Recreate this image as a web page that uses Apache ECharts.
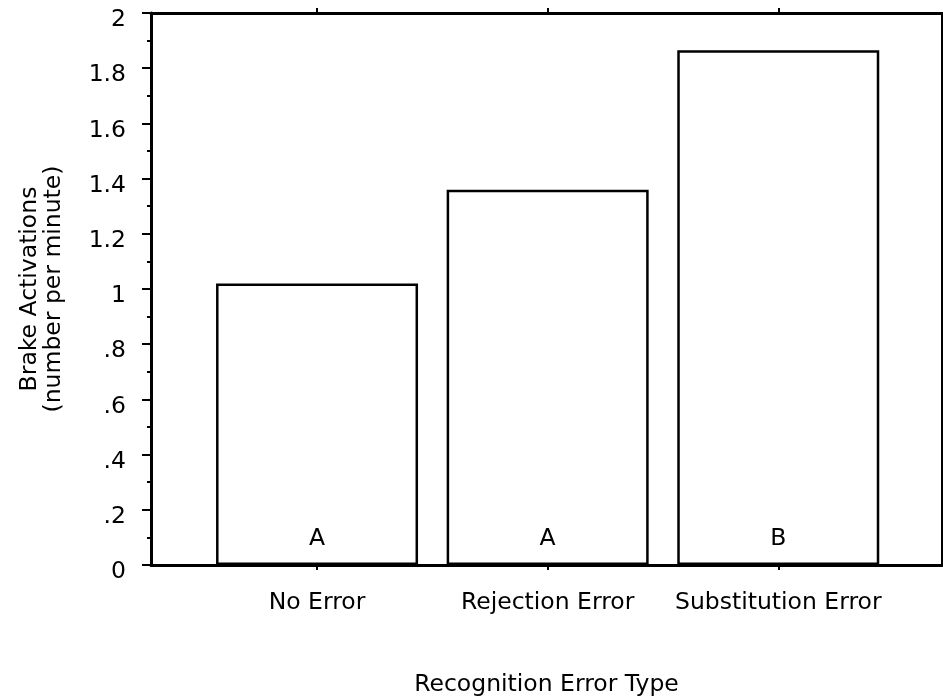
<!DOCTYPE html>
<html><head><meta charset="utf-8">
<script src="https://cdn.jsdelivr.net/npm/echarts@6/dist/echarts.min.js"></script>
<style>html,body{margin:0;padding:0;background:#fff}#c{width:943px;height:698px}</style>
</head><body><div id="c"></div>
<script>
const categories = ["No Error", "Rejection Error", "Substitution Error"];
const values = [1.02, 1.36, 1.865];
const groupLetters = ["A", "A", "B"];
const yTicks = [0, 0.2, 0.4, 0.6, 0.8, 1, 1.2, 1.4, 1.6, 1.8, 2];
const positions = [1, 2, 3];

const font = "DejaVu Sans";
const fs = 23.5;
const chart = echarts.init(document.getElementById('c'));
function yFmt(v){
  const r = Math.round(v*10)/10;
  if (r === 0) return "0";
  let s = String(r);
  if (s.startsWith("0.")) s = s.slice(1);
  return s;
}
chart.setOption({
  animation: false,
  backgroundColor: '#fff',
  grid: {left: 151, right: 1, top: 13, bottom: 133, containLabel: false, outerBoundsMode: 'none'},
  xAxis: [{
    type: 'value', min: 0.28, max: 3.71, position: 'bottom',
    name: 'Recognition Error Type', nameLocation: 'middle', nameGap: 108,
    nameTextStyle: {fontFamily: font, fontSize: fs, color: '#000'},
    axisLine: {show: true, onZero: false, lineStyle: {color: '#000', width: 3}},
    axisTick: {show: true, customValues: positions, length: 5, lineStyle: {color: '#000', width: 2}},
    axisLabel: {customValues: positions, formatter: v => categories[Math.round(v)-1] || '', margin: 26,
      fontFamily: font, fontSize: fs, color: '#000'},
    splitLine: {show: false}
  }, {
    type: 'value', min: 0.28, max: 3.71, position: 'top',
    axisLine: {show: true, onZero: false, lineStyle: {color: '#000', width: 3}},
    axisTick: {show: true, customValues: positions, length: 5, lineStyle: {color: '#000', width: 2}},
    axisLabel: {show: false},
    splitLine: {show: false}
  }],
  yAxis: [{
    type: 'value', min: 0, max: 2, interval: 0.2,
    name: 'Brake Activations\n(number per minute)', nameLocation: 'middle', nameGap: 85,
    nameTextStyle: {fontFamily: font, fontSize: fs, color: '#000', lineHeight: 24},
    axisLine: {show: true, onZero: false, lineStyle: {color: '#000', width: 3}},
    axisTick: {show: true, length: 9, lineStyle: {color: '#000', width: 2}},
    minorTick: {show: true, splitNumber: 2, length: 4, lineStyle: {color: '#000', width: 2}},
    axisLabel: {formatter: yFmt, margin: 25, verticalAlign: 'top', lineHeight: 14,
      fontFamily: font, fontSize: fs, color: '#000'},
    splitLine: {show: false}
  }, {
    type: 'value', min: 0, max: 2, position: 'right',
    axisLine: {show: true, onZero: false, lineStyle: {color: '#000', width: 2}},
    axisTick: {show: false}, axisLabel: {show: false}, splitLine: {show: false}
  }],
  series: [{
    type: 'bar', xAxisIndex: 0, yAxisIndex: 0, barWidth: 202,
    data: values.map((v, i) => [positions[i], v]),
    itemStyle: {color: '#fff', borderColor: '#000', borderWidth: 2.5},
    label: {show: true, position: 'insideBottom', distance: 14,
      formatter: p => groupLetters[p.dataIndex],
      fontFamily: font, fontSize: fs, color: '#000'}
  }]
});
</script></body></html>
